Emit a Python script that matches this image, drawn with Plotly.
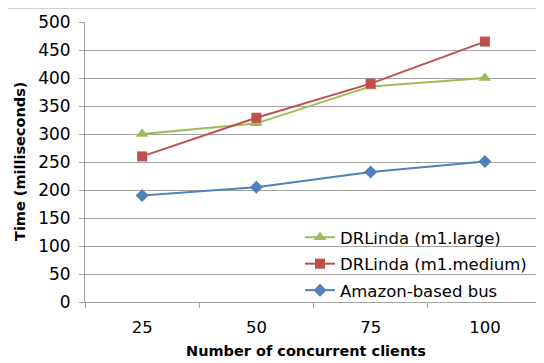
import plotly.graph_objects as go

categories = ["25", "50", "75", "100"]
large = [300, 319, 385, 400]
medium = [260, 329, 390, 465]
amazon = [190, 205, 232, 251]
names = ["DRLinda (m1.large)", "DRLinda (m1.medium)", "Amazon-based bus"]
yticks = list(range(0, 501, 50))

FONT = "DejaVu Sans, sans-serif"
OFF = 8  # page body margin
W, H = 544 - OFF, 363 - OFF
L, T = 85 - OFF, 22 - OFF
BOT = 302 - OFF
R = 2
B = H - BOT
PW, PH = W - L - R, H - T - B
GRID = "#A3A3A3"


def px(xw):
    return (xw - OFF - L) / PW


def py(yw):
    return (BOT - (yw - OFF)) / PH


fig = go.Figure()
specs = [
    (large, names[0], "#9BBB59", "triangle-up", 11),
    (medium, names[1], "#C0504D", "square", 10),
    (amazon, names[2], "#4F81BD", "diamond", 10),
]
for i, (vals, nm, col, sym, sz) in enumerate(specs):
    fig.add_trace(go.Scatter(
        x=categories, y=vals, name=nm, mode="lines+markers",
        line=dict(color=col, width=2),
        marker=dict(symbol=sym, size=sz, color=col),
        legendgroup=f"g{i}",
    ))

fig.update_layout(
    width=W, height=H,
    margin=dict(l=L, r=R, t=T, b=B, autoexpand=False),
    paper_bgcolor="white", plot_bgcolor="white",
    font=dict(family=FONT, size=16.5, color="#000000"),
    showlegend=True,
    legend=dict(x=px(300), y=py(220), xanchor="left", yanchor="top",
                bgcolor="rgba(0,0,0,0)", font=dict(size=16.5, color="#000"),
                traceorder="grouped", tracegroupgap=2, itemwidth=30),
    xaxis=dict(type="category", tickson="boundaries", showgrid=False, automargin=False,
               range=[-0.5, len(categories) - 0.5],
               showline=True, linecolor=GRID, linewidth=1,
               ticks="outside", ticklen=5, tickcolor=GRID,
               tickfont=dict(size=16.5), ticklabelstandoff=10),
    yaxis=dict(range=[0, 500], tickvals=yticks, showgrid=True, gridcolor=GRID,
               gridwidth=1, showline=True, linecolor=GRID, linewidth=1, automargin=False,
               ticks="outside", ticklen=5, tickcolor=GRID,
               tickfont=dict(size=17), zeroline=False, ticklabelstandoff=5),
)
fig.add_annotation(text="<b>Number of concurrent clients</b>", xref="paper", yref="paper",
                   x=px(306), y=py(351), xanchor="center", yanchor="middle",
                   showarrow=False, font=dict(size=14.5, family=FONT))
fig.add_annotation(text="<b>Time (milliseconds)</b>", xref="paper", yref="paper",
                   x=px(20), y=py(162), xanchor="center", yanchor="middle",
                   textangle=-90, showarrow=False, font=dict(size=14.5, family=FONT))
fig.add_shape(type="line", xref="paper", yref="paper", x0=px(OFF), x1=px(544),
              y0=py(8.5), y1=py(8.5), line=dict(color="#D0D0D0", width=1))
fig.write_html("out.html")
